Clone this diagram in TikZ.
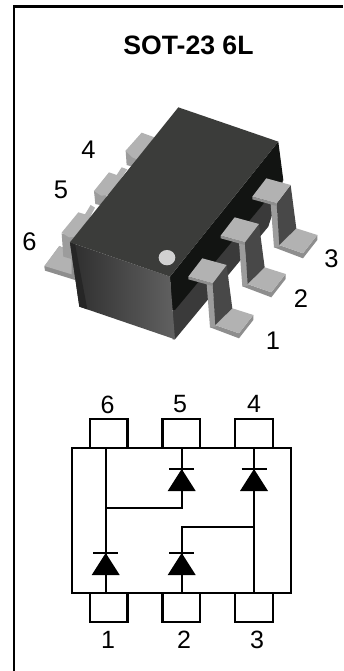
\documentclass[tikz,border=0pt]{standalone}
\usepackage{fontspec}
\setmainfont{Liberation Sans}
\usetikzlibrary{calc}
\definecolor{leadtop}{HTML}{B2B2B2}
\definecolor{leadedge}{HTML}{8E8E8E}
\definecolor{leadlight}{HTML}{9C9C9C}
\definecolor{leadside}{HTML}{484848}
\definecolor{chiptop}{HTML}{3B3C3A}
\definecolor{chipside}{HTML}{121412}
\definecolor{chiplow}{HTML}{3A3A3A}
\tikzset{
  frameline/.style={line width=2.4pt,black},
  wire/.style={line width=1.7pt,black},
  pinbox/.style={draw=black,line width=2.3pt,minimum width=37.5pt,minimum height=29pt,inner sep=0pt,outer sep=0pt},
  bodybox/.style={draw=black,line width=2.3pt,minimum width=218.4pt,minimum height=145pt,inner sep=0pt,outer sep=0pt},
  pinlabel/.style={font=\fontsize{25}{25}\selectfont,inner sep=0pt,text=black},
  chiplabel/.style={font=\fontsize{25.5}{25.5}\selectfont,inner sep=0pt,text=black},
  titlelabel/.style={font=\fontsize{26.6}{26.6}\selectfont\bfseries,inner sep=0pt,text=black},
}
% front lead, drawn in zoomed units at the position of lead 3
\newcommand{\frontlead}[2]{%
  \begin{scope}[shift={(#1,#2)}]
    \fill[leadedge] (822,502) -- (909,535) -- (952,480) -- (952,465) -- (909,520) -- (837,495) -- cycle;
    \fill[leadtop] (837,495) -- (889,445) -- (952,465) -- (909,520) -- cycle;
    \fill[leadlight] (812,370) -- (830,370) -- (840,500) -- (822,502) -- cycle;
    \fill[leadside] (830,370) -- (872,315) -- (889,445) -- (838,495) -- cycle;
    \fill[leadedge] (757,350) -- (757,358) -- (830,378) -- (830,370) -- cycle;
    \fill[leadtop] (757,350) -- (799,295) -- (872,315) -- (830,370) -- cycle;
  \end{scope}}
\begin{document}
\begin{tikzpicture}[x=1pt,y=-1pt]
\useasboundingbox (0,0) rectangle (343,671);
\fill[white] (0,0) rectangle (343,671);
\coordinate (frameTL) at (14,6.5);
\coordinate (frameTR) at (343,6.5);
\coordinate (frameBL) at (14,671);
\draw[frameline] (frameBL) -- (frameTL) -- (frameTR);
\node[titlelabel] (title) at (188.5,45) {SOT-23 6L};

% ---------- package drawing ----------
\begin{scope}[shift={(0,80)},x=0.3333pt,y=-0.3333pt]
  % back leads
  \fill[leadedge] (133,560) -- (178,498) -- (225,520) -- (225,600) -- (135,572) -- cycle;
  \fill[leadtop] (133,558) -- (178,498) -- (215,515) -- (215,583) -- cycle;
  \fill[leadlight] (185,460) -- (190,530) -- (225,540) -- (225,470) -- cycle;
  \fill[leadtop] (185,458) -- (235,397) -- (255,403) -- (272,375) -- (285,383) -- (240,470) -- (207,472) -- cycle;
  \fill[leadlight] (282,333) -- (286,372) -- (320,380) -- (320,340) -- cycle;
  \fill[leadtop] (282,333) -- (327,277) -- (350,285) -- (365,262) -- (382,268) -- (330,345) -- (303,347) -- cycle;
  \fill[leadlight] (377,212) -- (380,255) -- (415,265) -- (415,225) -- cycle;
  \fill[leadtop] (377,212) -- (425,158) -- (480,178) -- (425,245) -- (397,232) -- cycle;
  % chip body
  \fill[chiplow] (518,778) -- (518,690) -- (850,300) -- (805,440) -- (525,778) -- cycle;
  \fill[chipside] (510,590) -- (835,185) -- (850,300) -- (525,690) -- (515,690) -- cycle;
  \shade[left color=black!82,right color=black!62,middle color=black!72]
    (210,487) -- (510,590) -- (525,778) -- (238,680) -- cycle;
  \fill[black!85] (210,487) -- (225,492) -- (262,688) -- (238,680) -- cycle;
  \fill[chiptop] (535,82) -- (835,185) -- (510,590) -- (210,487) -- cycle;
  \fill[black!18] (501,533) ellipse [x radius=25,y radius=23];
  % front leads
  \frontlead{0}{0}
  \frontlead{-95}{117}
  \frontlead{-192}{240}
\end{scope}
\node[chiplabel] (c4) at (88.5,150) {4};
\node[chiplabel] (c5) at (61,190) {5};
\node[chiplabel] (c6) at (29.5,242) {6};
\node[chiplabel] (c3) at (331.5,259) {3};
\node[chiplabel] (c2) at (301,299) {2};
\node[chiplabel] (c1) at (273,341) {1};

% ---------- schematic ----------
\node[pinbox] (p6) at (108.8,433.5) {};
\node[pinbox] (p5) at (181.3,433.5) {};
\node[pinbox] (p4) at (254,433.5) {};
\node[pinbox] (p1) at (108.8,607.5) {};
\node[pinbox] (p2) at (181.3,607.5) {};
\node[pinbox] (p3) at (254,607.5) {};
\node[bodybox,fill=white] (body) at (181.5,520.8) {};

\coordinate (a6) at (105.7,448.3);
\coordinate (a1) at (105.7,593.3);
\coordinate (a5) at (181.7,448.3);
\coordinate (a2) at (181.7,593.3);
\coordinate (a4) at (254,448.3);
\coordinate (a3) at (254,593.3);
\coordinate (d5) at (181.7,480);
\coordinate (d4) at (254,480);
\coordinate (d1) at (105.7,564);
\coordinate (d2) at (181.7,564);
\coordinate (j6) at (105.7,507.7);
\coordinate (j5) at (181.7,507.7);
\coordinate (j2) at (181.7,527);
\coordinate (j4) at (254,527);

\foreach \d in {d5,d4,d1,d2}{
  \fill[black] ($(\d)+(-14,11)$) -- ($(\d)+(14,11)$) -- ($(\d)+(0,-11)$) -- cycle;
  \draw[wire] ($(\d)+(-12.5,-11)$) -- ($(\d)+(12.5,-11)$);
}
\draw[wire] (a6) -- (a1);
\draw[wire] (a5) -- (d5) (d5) -- (j5) -- (j6);
\draw[wire] (a4) -- (a3);
\draw[wire] (a2) -- (j2) -- (j4);

\node[pinlabel] (n6) at (107.5,404.5) {6};
\node[pinlabel] (n5) at (180,404.5) {5};
\node[pinlabel] (n4) at (254,404) {4};
\node[pinlabel] (n1) at (108,639.5) {1};
\node[pinlabel] (n2) at (184,639.5) {2};
\node[pinlabel] (n3) at (257,639.5) {3};
\end{tikzpicture}
\end{document}
